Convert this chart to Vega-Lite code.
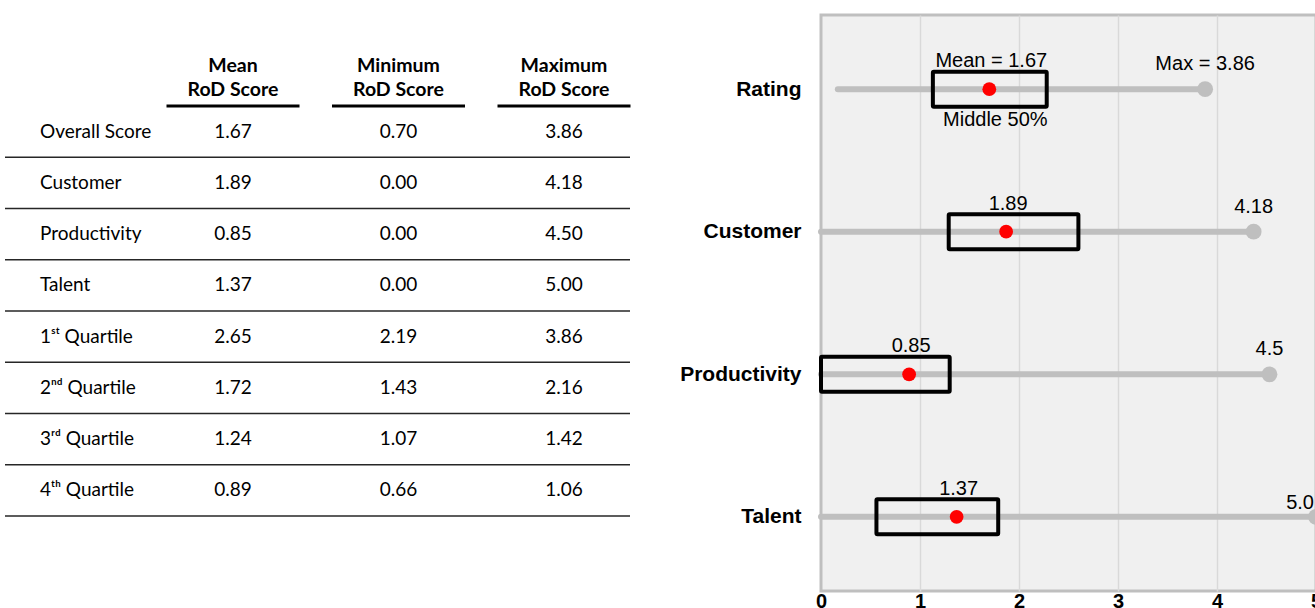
{
  "$schema": "https://vega.github.io/schema/vega-lite/v6.json",
  "padding": {"left": 4, "top": 13, "right": 0, "bottom": 0},
  "background": "white",
  "bounds": "flush",
  "spacing": 191,
  "config": {"view": {"stroke": null}, "font": "Liberation Sans"},
  "datasets": {
    "table": [
      {"label": "Overall Score", "mean": "1.67", "min": "0.70", "max": "3.86"},
      {"label": "Customer", "mean": "1.89", "min": "0.00", "max": "4.18"},
      {"label": "Productivity", "mean": "0.85", "min": "0.00", "max": "4.50"},
      {"label": "Talent", "mean": "1.37", "min": "0.00", "max": "5.00"},
      {"label": "1ˢᵗ Quartile", "mean": "2.65", "min": "2.19", "max": "3.86"},
      {"label": "2ⁿᵈ Quartile", "mean": "1.72", "min": "1.43", "max": "2.16"},
      {"label": "3ʳᵈ Quartile", "mean": "1.24", "min": "1.07", "max": "1.42"},
      {"label": "4ᵗʰ Quartile", "mean": "0.89", "min": "0.66", "max": "1.06"}
    ],
    "header": [
      {"col": "mean", "h1": "Mean", "h2": "RoD Score"},
      {"col": "min", "h1": "Minimum", "h2": "RoD Score"},
      {"col": "max", "h1": "Maximum", "h2": "RoD Score"}
    ],
    "plot": [
      {"cat": "Rating", "start": 0.17, "q1": 1.13, "q3": 2.28, "mean": 1.7, "max": 3.88, "meanLabel": "Mean = 1.67", "maxLabel": "Max = 3.86", "boxLabel": "Middle 50%"},
      {"cat": "Customer", "start": 0, "q1": 1.29, "q3": 2.6, "mean": 1.87, "max": 4.37, "meanLabel": "1.89", "maxLabel": "4.18", "boxLabel": ""},
      {"cat": "Productivity", "start": 0, "q1": 0, "q3": 1.3, "mean": 0.89, "max": 4.53, "meanLabel": "0.85", "maxLabel": "4.5", "boxLabel": ""},
      {"cat": "Talent", "start": 0, "q1": 0.56, "q3": 1.79, "mean": 1.37, "max": 5.0, "meanLabel": "1.37", "maxLabel": "5.0", "boxLabel": ""}
    ]
  },
  "hconcat": [
    {
      "width": 625,
      "height": 576,
      "view": {"stroke": null},
      "layer": [
        {
          "data": {"name": "table"},
          "mark": {"type": "rule", "color": "#262626", "strokeWidth": 1.5},
          "encoding": {
            "y": {"field": "label", "type": "nominal", "bandPosition": 1, "axis": null,
              "scale": {"type": "band", "domain": ["Overall Score", "Customer", "Productivity", "Talent", "1ˢᵗ Quartile", "2ⁿᵈ Quartile", "3ʳᵈ Quartile", "4ᵗʰ Quartile"], "range": [91, 501], "paddingInner": 0, "paddingOuter": 0}}
          }
        },
        {
          "data": {"name": "header"},
          "mark": {"type": "tick", "orient": "horizontal", "size": 133, "thickness": 3, "color": "black", "opacity": 1},
          "encoding": {
            "x": {"field": "col", "type": "nominal", "axis": null,
              "scale": {"type": "point", "domain": ["label", "mean", "min", "max"], "range": [62.5, 559], "padding": 0}},
            "y": {"datum": "Overall Score", "type": "nominal", "bandPosition": 0}
          }
        },
        {
          "data": {"name": "header"},
          "mark": {"type": "text", "font": "Lato", "fontWeight": "bold", "fontSize": 19.5, "baseline": "middle", "yOffset": -66, "color": "black"},
          "encoding": {
            "x": {"field": "col", "type": "nominal"},
            "y": {"datum": "Overall Score", "type": "nominal"},
            "text": {"field": "h1"}
          }
        },
        {
          "data": {"name": "header"},
          "mark": {"type": "text", "font": "Lato", "fontWeight": "bold", "fontSize": 19.5, "baseline": "middle", "yOffset": -42, "color": "black"},
          "encoding": {
            "x": {"field": "col", "type": "nominal"},
            "y": {"datum": "Overall Score", "type": "nominal"},
            "text": {"field": "h2"}
          }
        },
        {
          "data": {"name": "table"},
          "mark": {"type": "text", "font": "Lato", "fontSize": 19, "align": "left", "dx": -27.5, "color": "black"},
          "encoding": {
            "x": {"datum": "label", "type": "nominal"},
            "y": {"field": "label", "type": "nominal"},
            "text": {"field": "label"}
          }
        },
        {
          "data": {"name": "table"},
          "transform": [{"fold": ["mean", "min", "max"], "as": ["key", "value"]}],
          "mark": {"type": "text", "font": "Lato", "fontSize": 19, "align": "center", "color": "black"},
          "encoding": {
            "x": {"field": "key", "type": "nominal"},
            "y": {"field": "label", "type": "nominal"},
            "text": {"field": "value"}
          }
        }
      ]
    },
    {
      "width": 495,
      "height": 576,
      "view": {"fill": "#f0f0f0", "stroke": "#bfbfbf", "strokeWidth": 3},
      "data": {"name": "plot"},
      "encoding": {
        "y": {"field": "cat", "type": "nominal",
          "scale": {"type": "point", "domain": ["Rating", "Customer", "Productivity", "Talent"], "padding": 0.52},
          "axis": {"title": null, "domain": false, "ticks": false, "grid": false, "labelFont": "Liberation Sans", "labelFontWeight": "bold", "labelFontSize": 21, "labelColor": "black", "labelPadding": 20}}
      },
      "layer": [
        {
          "mark": {"type": "rule", "color": "#bfbfbf", "strokeWidth": 6, "strokeCap": "round"},
          "encoding": {
            "x": {"field": "start", "type": "quantitative",
              "scale": {"domain": [0, 5], "nice": false, "zero": false},
              "axis": {"values": [0, 1, 2, 3, 4, 5], "format": "d", "title": null, "domain": false, "ticks": false, "labelFont": "Liberation Sans", "labelFontWeight": "bold", "labelFontSize": 20, "labelColor": "black", "labelPadding": 0, "labelFlush": false, "labelOverlap": false, "grid": true, "gridWidth": 1.5,
                "gridColor": {"condition": {"test": "datum.value === 0 || datum.value === 5", "value": "transparent"}, "value": "#d9d9d9"}}},
            "x2": {"field": "max"}
          }
        },
        {
          "mark": {"type": "circle", "color": "#bfbfbf", "size": 250, "opacity": 1},
          "encoding": {"x": {"field": "max", "type": "quantitative"}}
        },
        {
          "mark": {"type": "bar", "fill": "transparent", "stroke": "black", "strokeWidth": 4, "size": 35, "cornerRadius": 1},
          "encoding": {
            "x": {"field": "q1", "type": "quantitative"},
            "x2": {"field": "q3"}
          }
        },
        {
          "mark": {"type": "circle", "color": "#ff0000", "size": 190, "opacity": 1},
          "encoding": {"x": {"field": "mean", "type": "quantitative"}}
        },
        {
          "mark": {"type": "text", "fontSize": 20, "dy": -28, "dx": 2, "color": "black"},
          "encoding": {"x": {"field": "mean", "type": "quantitative"}, "text": {"field": "meanLabel"}}
        },
        {
          "mark": {"type": "text", "fontSize": 20, "dy": 31, "dx": 6, "color": "black"},
          "encoding": {"x": {"field": "mean", "type": "quantitative"}, "text": {"field": "boxLabel"}}
        },
        {
          "transform": [{"filter": "datum.cat !== 'Talent'"}],
          "mark": {"type": "text", "fontSize": 20, "dy": -25, "color": "black"},
          "encoding": {"x": {"field": "max", "type": "quantitative"}, "text": {"field": "maxLabel"}}
        },
        {
          "transform": [{"filter": "datum.cat === 'Talent'"}],
          "mark": {"type": "text", "fontSize": 20, "dy": -14, "dx": -2, "align": "right", "color": "black"},
          "encoding": {"x": {"field": "max", "type": "quantitative"}, "text": {"field": "maxLabel"}}
        }
      ]
    }
  ]
}
